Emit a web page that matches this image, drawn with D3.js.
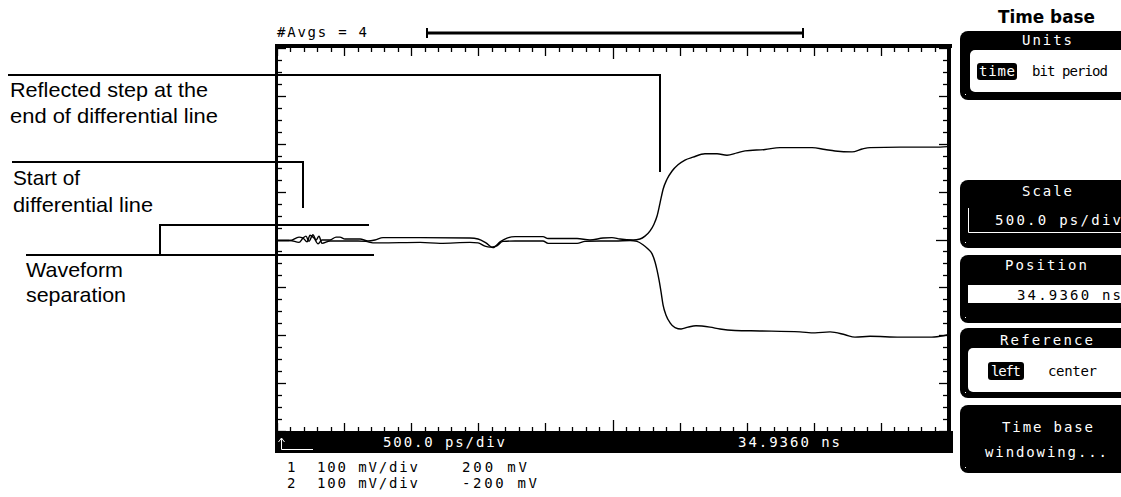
<!DOCTYPE html>
<html><head><meta charset="utf-8">
<script src="https://cdn.jsdelivr.net/npm/d3@7"></script>
<style>body{margin:0;background:#fff;}svg{display:block;}</style>
</head><body><svg id="c" width="1121" height="497"></svg>
<script>
// ---- data (time in ps from left reference, voltage in mV) ----
const ch1Time = [0,97,164,194,224,246,276,306,335,395,440,469,507,619,678,730,790,1066,1438,1498,1557,1610,1662,1714,1774,1982,2020,2236,2332,2429,2496,2556,2653,2705,2742,2780,2809,2832,2854,2877,2906,2944,2988,3040,3100,3189,3279,3353,3428,3488,3637,3748,3987,4084,4158,4285,4360,4419,4643,4866,4941,5000];
const ch1Volt = [198,198,205,203,195,209,203,191,199,199,205,205,201,201,197,199,204,204,203,201,193,183,195,203,206,206,202,202,199,203,204,201,199,201,207,218,232,249,276,305,326,343,356,366,372,379,379,376,381,385,388,392,392,388,385,383,389,392,393,393,393,394];
const ch2Time = [0,97,164,194,216,238,268,291,313,335,395,507,604,663,715,768,1066,1215,1438,1498,1550,1587,1632,1684,1774,1982,2020,2236,2295,2407,2519,2631,2683,2727,2765,2795,2817,2832,2847,2862,2877,2899,2929,2966,3011,3063,3122,3227,3301,3413,3599,3897,4009,4121,4233,4307,4419,4643,4866,4941,5000];
const ch2Volt = [-202,-202,-206,-197,-193,-204,-190,-201,-193,-208,-203,-203,-203,-204,-207,-207,-206,-208,-206,-207,-214,-216,-214,-204,-203,-203,-208,-208,-204,-203,-203,-202,-204,-211,-220,-230,-247,-264,-285,-310,-337,-358,-374,-384,-387,-383,-380,-383,-387,-390,-391,-393,-395,-393,-399,-404,-402,-404,-404,-402,-399];
const channelNames = ["1","2"];
const channelScales = ["100 mV/div","100 mV/div"];
const channelOffsets = [200,-200];
const offsetLabels = ["200 mV","-200 mV"];
const timeScaleLabel = "500.0 ps/div";
const positionLabel = "34.9360 ns";
const avgLabel = "#Avgs = 4";
const timePerDiv = 500, voltPerDiv = 100, hDivs = 10, vDivs = 8;

const svg = d3.select("#c");
const MONO = "'DejaVu Sans Mono', monospace";
const SANS = "'Liberation Sans', Arial, sans-serif";

const gx0 = 277, gx1 = 948, gy0 = 48, gy1 = 431;
const x = d3.scaleLinear().domain([0, timePerDiv*hDivs]).range([gx0, gx1]);
const yFor = off => d3.scaleLinear().domain([off - voltPerDiv*vDivs/2, off + voltPerDiv*vDivs/2]).range([gy1, gy0]);
const y1 = yFor(channelOffsets[0]), y2 = yFor(channelOffsets[1]);
const yDiv = d3.scaleLinear().domain([-vDivs/2, vDivs/2]).range([gy1, gy0]);

function txt(s, px, py, opt={}){
  const t = svg.append("text").attr("x",px).attr("y",py).text(s)
    .attr("font-family", opt.family||MONO).attr("font-size", opt.size||14)
    .attr("fill", opt.fill||"#000");
  if (opt.weight) t.attr("font-weight", opt.weight);
  if (opt.len){ t.attr("textLength", opt.len).attr("lengthAdjust", opt.adj||"spacing"); }
  if (opt.anchor) t.attr("text-anchor", opt.anchor);
  return t;
}

// ---- frame ----
svg.append("rect").attr("x",275).attr("y",44).attr("width",677).attr("height",4).attr("fill","#000");
svg.append("rect").attr("x",275).attr("y",44).attr("width",3).attr("height",409).attr("fill","#000");
svg.append("rect").attr("x",947).attr("y",44).attr("width",4).attr("height",409).attr("fill","#000");
svg.append("rect").attr("x",275).attr("y",431).attr("width",678).attr("height",22).attr("fill","#000");

// ticks
const tTicks = d3.range(0, timePerDiv*hDivs + 1, timePerDiv/5);
const vTicks = d3.range(-vDivs/2, vDivs/2 + 0.001, 0.25);
const tk = svg.append("g").attr("stroke","#000").attr("stroke-width",1.3);
tTicks.forEach(t=>{
  const major = t % timePerDiv === 0, center = t === timePerDiv*hDivs/2;
  const L = center ? 11 : (major ? 8 : 4);
  const px = Math.round(x(t)) + 0.5;
  tk.append("line").attr("x1",px).attr("x2",px).attr("y1",48).attr("y2",48+L);
  tk.append("line").attr("x1",px).attr("x2",px).attr("y1",431).attr("y2",431-L);
});
vTicks.forEach(v=>{
  const major = Math.abs(v - Math.round(v)) < 1e-6, center = Math.abs(v) < 1e-6;
  const L = center ? 11 : (major ? 8 : 4);
  const py = Math.round(yDiv(v)) + 0.5;
  tk.append("line").attr("x1",278).attr("x2",278+L).attr("y1",py).attr("y2",py);
  tk.append("line").attr("x1",947).attr("x2",947-L).attr("y1",py).attr("y2",py);
});

// ---- traces ----
const line1 = d3.line().x((d,i)=>x(ch1Time[i])).y(d=>y1(d)).curve(d3.curveMonotoneX);
const line2 = d3.line().x((d,i)=>x(ch2Time[i])).y(d=>y2(d)).curve(d3.curveMonotoneX);
svg.append("path").attr("d", line1(ch1Volt)).attr("fill","none").attr("stroke","#000").attr("stroke-width",1.4);
svg.append("path").attr("d", line2(ch2Volt)).attr("fill","none").attr("stroke","#000").attr("stroke-width",1.4);

// ---- top info ----
txt(avgLabel, 277, 37, {len:90});
svg.append("line").attr("x1",427).attr("x2",803).attr("y1",33).attr("y2",33).attr("stroke","#000").attr("stroke-width",3);
[427,803].forEach(px=>svg.append("line").attr("x1",px).attr("x2",px).attr("y1",28).attr("y2",38).attr("stroke","#000").attr("stroke-width",2));

// ---- bottom bar ----
txt(timeScaleLabel, 383, 447, {fill:"#fff", len:122});
txt(positionLabel, 738, 447, {fill:"#fff", len:102});
svg.append("path").attr("d","M281.5,449.5V438.5M278.5,442L281.5,438L284.5,442M281.5,449.5H313").attr("stroke","#fff").attr("stroke-width",1).attr("fill","none");

// channel lines
channelNames.forEach((n,i)=>{
  const by = 472 + i*16;
  txt(n, 287, by);
  txt(channelScales[i], 317, by, {len:101});
  txt(offsetLabels[i], 462, by, {len: offsetLabels[i].length===6?65:75});
});

// ---- annotations ----
const ann = svg.append("g").attr("stroke","#000").attr("stroke-width",2).attr("fill","none");
ann.append("path").attr("d","M8,75H660V172");
ann.append("path").attr("d","M12,162H303V208");
ann.append("path").attr("d","M160,255V225H369");
ann.append("path").attr("d","M26,255H374");
const A = {family:SANS, size:21, adj:"spacingAndGlyphs"};
txt("Reflected step at the", 10, 97, {...A, len:198});
txt("end of differential line", 10, 123, {...A, len:208});
txt("Start of", 13, 185, {...A, len:67});
txt("differential line", 13, 212, {...A, len:140});
txt("Waveform", 26, 277, {...A, len:97});
txt("separation", 26, 302, {...A, len:100});

// ---- right softkey panel ----
txt("Time base", 998, 23, {family:"'DejaVu Sans', sans-serif", size:17, weight:"bold", len:97, adj:"spacingAndGlyphs"});
function box(y0,y1){
  svg.append("rect").attr("x",960).attr("y",y0).attr("width",200).attr("height",y1-y0).attr("rx",8).attr("fill","#000");
  svg.append("rect").attr("x",965).attr("y",y1-6).attr("width",1).attr("height",1).attr("fill","#fff");
}
// Units
box(31,100);
svg.append("rect").attr("x",970).attr("y",50).attr("width",200).attr("height",42).attr("rx",5).attr("fill","#fff");
txt("Units", 1022, 45, {fill:"#fff", len:50});
svg.append("rect").attr("x",977).attr("y",63).attr("width",40).attr("height",17).attr("rx",3).attr("fill","#000");
txt("time", 979, 76, {fill:"#fff", len:36});
txt("bit period", 1032, 76, {len:76});
// Scale
box(180,248);
txt("Scale", 1022, 196, {fill:"#fff", len:50});
svg.append("path").attr("d","M968.5,208V232.5H1121").attr("stroke","#fff").attr("stroke-width",1).attr("fill","none");
txt(timeScaleLabel, 995, 225, {fill:"#fff", len:126});
// Position
box(255,323);
txt("Position", 1005, 270, {fill:"#fff", len:82});
svg.append("rect").attr("x",968).attr("y",285).attr("width",200).attr("height",18).attr("fill","#fff");
txt(positionLabel, 1017, 300, {len:104});
// Reference
box(328,398);
txt("Reference", 1000, 345, {fill:"#fff", len:93});
svg.append("rect").attr("x",968).attr("y",348).attr("width",200).attr("height",44).attr("rx",5).attr("fill","#fff");
svg.append("rect").attr("x",988).attr("y",362).attr("width",36).attr("height",18).attr("rx",3).attr("fill","#000");
txt("left", 991, 376, {fill:"#fff", len:30});
txt("center", 1048, 376, {len:49});
// Time base windowing
box(405,473);
txt("Time base", 1002, 432, {fill:"#fff", len:91});
txt("windowing...", 985, 457, {fill:"#fff", len:122});
</script></body></html>
